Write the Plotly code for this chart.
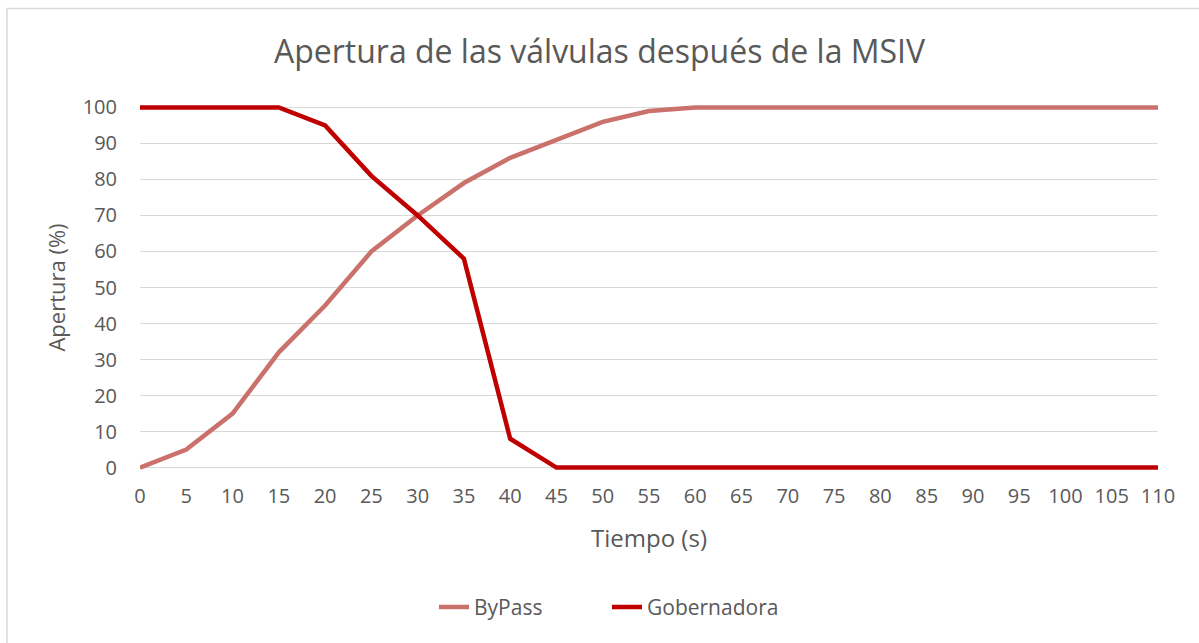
import plotly.graph_objects as go

tiempo = list(range(0, 115, 5))
bypass = [0, 5, 15, 32, 45, 60, 70, 79, 86, 91, 96, 99, 100, 100, 100, 100, 100, 100, 100, 100, 100, 100, 100]
gobernadora = [100, 100, 100, 100, 95, 81, 70, 58, 8, 0, 0, 0, 0, 0, 0, 0, 0, 0, 0, 0, 0, 0, 0]
x_ticks = list(range(0, 115, 5))
y_ticks = list(range(0, 110, 10))

W, H = 1199, 643
L, R, T, B = 140, 1158, 107, 468
pad = 1.5
upx = (B - T) / 100.0
txt = "#595959"
font = "Open Sans, Segoe UI, sans-serif"

fig = go.Figure()
fig.add_trace(go.Scatter(x=tiempo, y=bypass, mode="lines", name="ByPass",
                         line=dict(color="#C9716A", width=4.5)))
fig.add_trace(go.Scatter(x=tiempo, y=gobernadora, mode="lines", name="Gobernadora",
                         line=dict(color="#C00000", width=4.5)))

pw = R - L
ph = B - T + 2 * pad * upx
fig.update_layout(
    width=W, height=H,
    margin=dict(l=L, r=W - R, t=T - pad * upx, b=H - B - pad * upx, pad=0, autoexpand=False),
    paper_bgcolor="white", plot_bgcolor="white",
    font=dict(family=font, color=txt, size=20),
    title=dict(text="Apertura de las válvulas después de la MSIV", x=0.5, xanchor="center",
               y=1 - 52 / H, yanchor="middle", font=dict(size=32, color=txt)),
    xaxis=dict(range=[0, 110], tickmode="array", tickvals=x_ticks, ticktext=[str(v) for v in x_ticks],
               showgrid=False, zeroline=False, showline=False, ticks="",
               tickfont=dict(size=20, color=txt), ticklabelstandoff=9,
               title=dict(text="Tiempo (s)", font=dict(size=24, color=txt), standoff=22)),
    yaxis=dict(range=[-pad, 100 + pad], tickmode="array", tickvals=y_ticks,
               showgrid=True, gridcolor="#D9D9D9", gridwidth=1.3, zeroline=False, showline=False, ticks="",
               tickfont=dict(size=20, color=txt), ticklabelstandoff=22,
               title=dict(text="Apertura (%)", font=dict(size=22, color=txt), standoff=10)),
    legend=dict(orientation="h", x=(434 - L) / pw, xanchor="left", y=-(608 - B - pad * upx) / ph,
                yanchor="middle", font=dict(size=21, color=txt),
                entrywidth=128, entrywidthmode="pixels"),
    showlegend=True,
)
fig.add_shape(type="rect", xref="paper", yref="paper",
              x0=(7 - L) / pw, x1=(1215 - L) / pw,
              y0=-(660 - B - pad * upx) / ph, y1=1 + (T - pad * upx - 8) / ph,
              line=dict(color="#D9D9D9", width=1.5), fillcolor="rgba(0,0,0,0)", layer="below")

fig.write_html("out.html", config={"displayModeBar": False},
               post_script="document.body.style.margin='0';")
